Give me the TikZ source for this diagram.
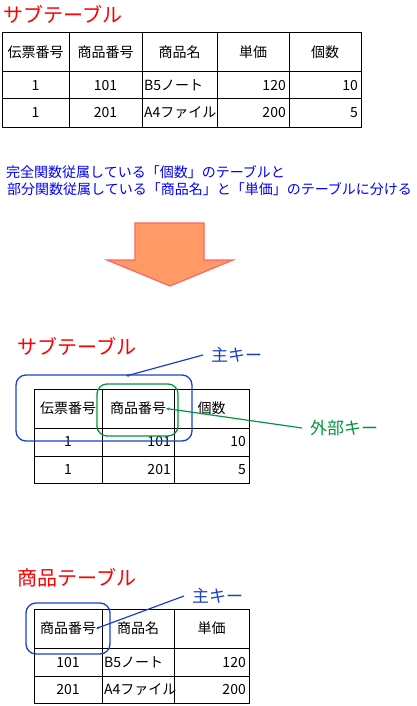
\documentclass[tikz,border=0pt]{standalone}
\usepackage{fontspec}
\setmainfont{Noto Sans CJK JP}
\usetikzlibrary{arrows.meta}

\definecolor{keyblue}{RGB}{24,64,204}
\definecolor{keygreen}{RGB}{0,150,60}
\definecolor{arrowfill}{RGB}{255,153,102}
\definecolor{arrowline}{RGB}{255,100,100}

\tikzset{
  tabletitle/.style={text=red,font=\fontsize{20}{24}\selectfont,anchor=west,inner sep=0pt},
  cell/.style={font=\fontsize{14}{16}\selectfont,inner sep=0pt},
  note/.style={text=blue,font=\fontsize{14}{17}\selectfont,anchor=west,inner sep=0pt},
  keylabel/.style={font=\fontsize{17}{20}\selectfont,anchor=west,inner ysep=0pt,inner xsep=8pt},
  keybox/.style={rounded corners=10pt,line width=1.3pt},
  pointer/.style={line width=1.2pt,-{Stealth[length=3pt,width=3pt]}},
}

\begin{document}
\begin{tikzpicture}[x=1pt,y=-1pt]
\useasboundingbox (0,0) rectangle (416,706);

% table before the split
\node[tabletitle] (title1) at (3,14) {サブテーブル};
\draw[line width=1pt] (2,33) rectangle (361,127);
\foreach \x in {69,142,217,289} \draw[line width=1pt] (\x,33) -- (\x,127);
\foreach \y in {72,99} \draw[line width=1pt] (2,\y) -- (361,\y);
\node[cell] (h11) at (35.5,52.5) {伝票番号};
\node[cell] (h12) at (105.5,52.5) {商品番号};
\node[cell] (h13) at (179.5,52.5) {商品名};
\node[cell] (h14) at (253,52.5) {単価};
\node[cell] (h15) at (325,52.5) {個数};
\node[cell] (a11) at (35.5,85.5) {1};
\node[cell] (a12) at (105.5,85.5) {101};
\node[cell,anchor=west] (a13) at (144,85.5) {B5ノート};
\node[cell,anchor=east] (a14) at (286,85.5) {120};
\node[cell,anchor=east] (a15) at (358,85.5) {10};
\node[cell] (b11) at (35.5,113) {1};
\node[cell] (b12) at (105.5,113) {201};
\node[cell,anchor=west] (b13) at (144,113) {A4ファイル};
\node[cell,anchor=east] (b14) at (286,113) {200};
\node[cell,anchor=east] (b15) at (358,113) {5};

% explanation
\node[note] (line1) at (6,172.5) {完全関数従属している「個数」のテーブルと};
\node[note] (line2) at (7,189.5) {部分関数従属している「商品名」と「単価」のテーブルに分ける};

\filldraw[draw=arrowline,fill=arrowfill,line width=1.2pt,line join=miter]
  (135,223) -- (204,223) -- (204,260) -- (233,260) -- (170,286) -- (107,260) -- (135,260) -- cycle;

% sub table
\node[tabletitle] (title2) at (17,346.5) {サブテーブル};
\draw[line width=1pt] (34,389) rectangle (249,483);
\foreach \x in {102,174} \draw[line width=1pt] (\x,389) -- (\x,483);
\foreach \y in {428,456} \draw[line width=1pt] (34,\y) -- (249,\y);
\node[cell] (h21) at (68,408.5) {伝票番号};
\node[cell] (h22) at (138,408.5) {商品番号};
\node[cell] (h23) at (211.5,408.5) {個数};
\node[cell] (a21) at (68,442) {1};
\node[cell,anchor=east] (a22) at (171,442) {101};
\node[cell,anchor=east] (a23) at (246,442) {10};
\node[cell] (b21) at (68,469.5) {1};
\node[cell,anchor=east] (b22) at (171,469.5) {201};
\node[cell,anchor=east] (b23) at (246,469.5) {5};

\draw[keybox,keyblue] (16,375) rectangle (192,441);
\draw[keybox,keygreen] (97,384) rectangle (178,436);
\coordinate (pk2end) at (126,376);
\node[keylabel,text=keyblue] (pk2) at (203,355) {主キー};
\draw[pointer,keyblue] (pk2.west) -- (pk2end);
\node[keylabel,text=keygreen] (fk2) at (302,428) {外部キー};
\draw[pointer,keygreen] (fk2.west) -- (h22.east);

% item table
\node[tabletitle] (title3) at (17,577.5) {商品テーブル};
\draw[line width=1pt] (34,609) rectangle (249,703);
\foreach \x in {102,174} \draw[line width=1pt] (\x,609) -- (\x,703);
\foreach \y in {648,676} \draw[line width=1pt] (34,\y) -- (249,\y);
\node[cell] (h31) at (68,628.5) {商品番号};
\node[cell] (h32) at (138,628.5) {商品名};
\node[cell] (h33) at (211.5,628.5) {単価};
\node[cell] (a31) at (68,662) {101};
\node[cell,anchor=west] (a32) at (104,662) {B5ノート};
\node[cell,anchor=east] (a33) at (246,662) {120};
\node[cell] (b31) at (68,689.5) {201};
\node[cell,anchor=west] (b32) at (104,689.5) {A4ファイル};
\node[cell,anchor=east] (b33) at (246,689.5) {200};

\draw[keybox,keyblue] (26,603) rectangle (110,654);
\node[keylabel,text=keyblue] (pk3) at (184,596) {主キー};
\draw[pointer,keyblue] (pk3.west) -- (h31.east);

\end{tikzpicture}
\end{document}
